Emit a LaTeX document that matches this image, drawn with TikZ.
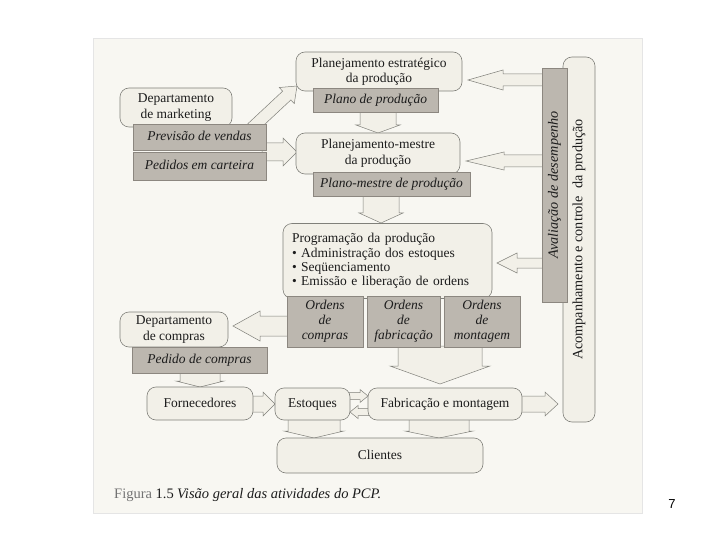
\documentclass[tikz,border=0pt]{standalone}
\usepackage{fontspec}
\setmainfont{Liberation Serif}
\newfontfamily\pagefont{Liberation Sans}
\usetikzlibrary{calc}
\pgfdeclarelayer{scan}
\pgfdeclarelayer{bg}
\pgfsetlayers{scan,bg,main}
\definecolor{scanbg}{RGB}{248,247,242}
\definecolor{boxfill}{RGB}{242,240,232}
\definecolor{boxline}{RGB}{128,128,122}
\definecolor{grayfill}{RGB}{188,183,175}
\definecolor{grayline}{RGB}{140,135,128}
\definecolor{inktext}{RGB}{28,28,28}
\tikzset{
  rbox/.style={draw=boxline, fill=boxfill, rounded corners=9pt, line width=0.6pt,
    align=center, inner sep=2pt, text=inktext, font=\fontsize{13.5}{15.5}\selectfont},
  gbox/.style={draw=grayline, fill=grayfill, line width=0.6pt, align=center,
    inner sep=2pt, text=inktext, font=\fontsize{13.5}{15}\selectfont\itshape},
  oneline/.style={text height=9.5pt, text depth=2.5pt},
  barrow/.style={draw=boxline, fill=boxfill, line width=0.5pt, line join=miter},
}
% #1 start, #2 end, #3 half stem width, #4 half head width, #5 head length
\newcommand\blockarrow[5]{%
  \coordinate (ba-h) at ($(#2)!#5!(#1)$);
  \draw[barrow] ($(#1)!#3!90:(#2)$) -- ($(ba-h)!#3!90:(#2)$) -- ($(ba-h)!#4!90:(#2)$)
    -- (#2) -- ($(ba-h)!#4!-90:(#2)$) -- ($(ba-h)!#3!-90:(#2)$) -- ($(#1)!#3!-90:(#2)$) -- cycle;
}
\begin{document}
\begin{tikzpicture}[x=1pt,y=-1pt]
\useasboundingbox (0,0) rectangle (720,540);
\begin{pgfonlayer}{scan}
\fill[white] (0,0) rectangle (720,540);
\draw[draw=black!10, fill=scanbg] (93,38) rectangle (642,513);
\end{pgfonlayer}

% right-hand column
\node[rbox, rotate=90, minimum width=365pt, minimum height=32pt, font=\fontsize{14.2}{16}\selectfont] (ac) at (579,239.5)
  {Acompanhamento e controle\ \ da produção};
\node[gbox, rotate=90, minimum width=234pt, minimum height=25pt, font=\fontsize{14.2}{16}\selectfont\itshape] (av) at (554.5,185)
  {Avaliação de desempenho};

% planning column
\node[rbox, minimum width=166pt, minimum height=39pt] (pe) at (379,71.5)
  {Planejamento estratégico\\da produção};
\node[gbox, oneline, minimum width=125pt, minimum height=24pt] (pp) at (375.5,100) {Plano de produção};
\node[rbox, minimum width=164pt, minimum height=41pt] (pm) at (378,153.5)
  {Planejamento-mestre\\da produção};
\node[gbox, oneline, minimum width=157pt, minimum height=24pt] (pmp) at (391.5,184) {Plano-mestre de produção};
\node[rbox, minimum width=209pt, minimum height=75pt, align=left, text width=191pt,
  inner xsep=9pt, font=\fontsize{13.5}{14.3}\selectfont] (pg) at (387.5,261)
  {Programação da produção\\
   \textbullet\ Administração dos estoques\\
   \textbullet\ Seqüenciamento\\
   \textbullet\ Emissão e liberação de ordens};
\node[gbox, minimum width=76pt, minimum height=51pt] (oc) at (325,321.5) {Ordens\\de\\compras};
\node[gbox, minimum width=73pt, minimum height=51pt] (of) at (403.5,321.5) {Ordens\\de\\fabricação};
\node[gbox, minimum width=76pt, minimum height=51pt] (om) at (482,321.5) {Ordens\\de\\montagem};

% left column
\node[rbox, minimum width=112pt, minimum height=39pt] (dm) at (176,107.5) {Departamento\\de marketing};
\node[gbox, oneline, minimum width=133pt, minimum height=26pt] (pv) at (199.5,137) {Previsão de vendas};
\node[gbox, oneline, minimum width=133pt, minimum height=28pt] (pc) at (199.5,166) {Pedidos em carteira};
\node[rbox, minimum width=108pt, minimum height=35pt] (dc) at (174,329.5) {Departamento\\de compras};
\node[gbox, oneline, minimum width=135pt, minimum height=26pt] (pdc) at (199.5,360) {Pedido de compras};

% bottom row
\node[rbox, oneline, minimum width=106pt, minimum height=33pt] (fo) at (200,403.5) {Fornecedores};
\node[rbox, oneline, minimum width=75pt, minimum height=32pt] (es) at (312.5,404) {Estoques};
\node[rbox, oneline, minimum width=154pt, minimum height=32pt] (fm) at (445,404) {Fabricação e montagem};
\node[rbox, oneline, minimum width=206pt, minimum height=35pt] (cl) at (380,455.5) {Clientes};

% arrow end points
\coordinate (m1s) at (252,128);   \coordinate (m1e) at (297,86);
\coordinate (m2s) at (262,152);   \coordinate (m2e) at (297,152);
\coordinate (p1s) at (378,111);   \coordinate (p1e) at (378,133);
\coordinate (p2s) at (381,195);   \coordinate (p2e) at (381,223);
\coordinate (v1s) at (543,80);    \coordinate (v1e) at (468,80);
\coordinate (v2s) at (543,161);   \coordinate (v2e) at (466,161);
\coordinate (v3s) at (543,263);   \coordinate (v3e) at (497,263);
\coordinate (c1s) at (290,326);   \coordinate (c1e) at (233,326);
\coordinate (c2s) at (200,372);   \coordinate (c2e) at (200,387);
\coordinate (f1s) at (252,404);   \coordinate (f1e) at (275,404);
\coordinate (e1s) at (349,396);   \coordinate (e1e) at (368,396);
\coordinate (e2s) at (369,412);   \coordinate (e2e) at (350,412);
\coordinate (g1s) at (521,404);   \coordinate (g1e) at (558,404);
\coordinate (o1s) at (440,346);   \coordinate (o1e) at (440,384);
\coordinate (k1s) at (314,419);   \coordinate (k1e) at (314,438);
\coordinate (k2s) at (439,419);   \coordinate (k2e) at (439,438);

\begin{pgfonlayer}{bg}
\blockarrow{m1s}{m1e}{6pt}{11pt}{14pt}
\blockarrow{m2s}{m2e}{9pt}{14pt}{14pt}
\blockarrow{p1s}{p1e}{18pt}{22pt}{8pt}
\blockarrow{p2s}{p2e}{18pt}{22pt}{10pt}
\blockarrow{v1s}{v1e}{6pt}{10pt}{35pt}
\blockarrow{v2s}{v2e}{6pt}{9pt}{38pt}
\blockarrow{v3s}{v3e}{5pt}{10pt}{20pt}
\blockarrow{c1s}{c1e}{10pt}{15pt}{27pt}
\blockarrow{c2s}{c2e}{20pt}{24pt}{6pt}
\blockarrow{f1s}{f1e}{8pt}{12pt}{12pt}
\blockarrow{e1s}{e1e}{3.5pt}{6.5pt}{8pt}
\blockarrow{e2s}{e2e}{3.5pt}{6.5pt}{8pt}
\blockarrow{g1s}{g1e}{8pt}{12pt}{13pt}
\blockarrow{o1s}{o1e}{42pt}{50pt}{18pt}
\blockarrow{k1s}{k1e}{26pt}{30pt}{7pt}
\blockarrow{k2s}{k2e}{30pt}{34pt}{7pt}
\end{pgfonlayer}

% caption and page number
\node[anchor=west, inner sep=0pt, text=inktext, font=\fontsize{14.5}{16}\selectfont] (fig) at (114,495)
  {{\color{black!55}Figura} 1.5};
\node[anchor=west, inner sep=0pt, text=inktext, font=\fontsize{14.5}{16}\selectfont\itshape] (cap) at (177,495)
  {Visão geral das atividades do PCP.};
\node[inner sep=0pt, font=\pagefont\fontsize{13}{15}\selectfont] (pnum) at (672,504) {7};
\end{tikzpicture}
\end{document}
